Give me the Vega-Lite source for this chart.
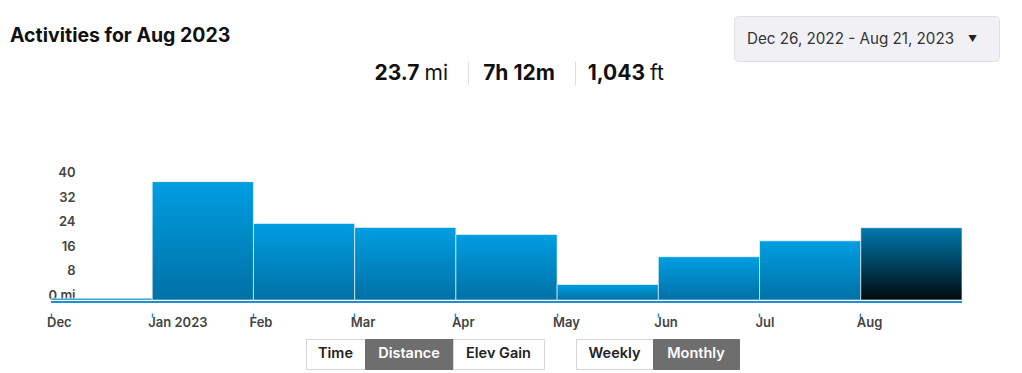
{
  "$schema": "https://vega.github.io/schema/vega-lite/v6.json",
  "padding": 0,
  "background": "white",
  "bounds": "full",
  "spacing": 0,
  "config": {
    "view": {"stroke": null},
    "font": "Inter",
    "concat": {"spacing": 0},
    "text": {"font": "Inter"}
  },
  "vconcat": [
    {"width": 10, "height": 15, "data": {"values": [{}]}, "mark": "text", "encoding": {"text": {"value": ""}}},
    {
      "hconcat": [
        {
          "width": 20, "height": 40,
          "data": {"values": [{"t": "Activities for Aug 2023"}]},
          "mark": {"type": "text", "align": "left", "baseline": "middle", "fontSize": 19.5, "fontWeight": "bold", "color": "#111111"},
          "encoding": {"text": {"field": "t"}}
        },
        {
          "width": 265, "height": 45,
          "view": {"fill": "#f0f0f5", "stroke": "#dfdfe6", "cornerRadius": 4},
          "data": {"values": [{"range": "Dec 26, 2022 - Aug 21, 2023"}]},
          "layer": [
            {"mark": {"type": "text", "align": "center", "baseline": "middle", "fontSize": 15.2, "color": "#333333", "dx": -16}, "encoding": {"text": {"field": "range"}}},
            {"mark": {"type": "text", "align": "center", "baseline": "middle", "fontSize": 9, "color": "#222222", "dx": 106}, "encoding": {"text": {"value": "▼"}}}
          ]
        }
      ],
      "spacing": 714,
      "bounds": "flush"
    },
    {
      "hconcat": [
        {"width": 357, "height": 23, "data": {"values": [{}]}, "mark": "text", "encoding": {"text": {"value": ""}}},
        {
          "width": 111, "height": 23,
          "data": {"values": [{"num": "23.7", "unit": "mi"}]},
          "layer": [
            {"mark": {"type": "text", "align": "right", "baseline": "middle", "fontSize": 21, "fontWeight": "bold", "color": "#111111", "dx": 7}, "encoding": {"text": {"field": "num"}}},
            {"mark": {"type": "text", "align": "left", "baseline": "middle", "fontSize": 21, "fontWeight": "normal", "color": "#111111", "dx": 12}, "encoding": {"text": {"field": "unit"}}}
          ]
        },
        {"width": 1, "height": 23, "view": {"fill": "#dddddd"}, "data": {"values": [{}]}, "mark": "text", "encoding": {"text": {"value": ""}}},
        {
          "width": 106, "height": 23,
          "data": {"values": [{"num": "7h 12m"}]},
          "mark": {"type": "text", "align": "center", "baseline": "middle", "fontSize": 21, "fontWeight": "bold", "color": "#111111", "dx": -3},
          "encoding": {"text": {"field": "num"}}
        },
        {"width": 1, "height": 23, "view": {"fill": "#dddddd"}, "data": {"values": [{}]}, "mark": "text", "encoding": {"text": {"value": ""}}},
        {
          "width": 104, "height": 23,
          "data": {"values": [{"num": "1,043", "unit": "ft"}]},
          "layer": [
            {"mark": {"type": "text", "align": "right", "baseline": "middle", "fontSize": 21, "fontWeight": "bold", "color": "#111111", "dx": 17}, "encoding": {"text": {"field": "num"}}},
            {"mark": {"type": "text", "align": "left", "baseline": "middle", "fontSize": 21, "fontWeight": "normal", "color": "#111111", "dx": 22}, "encoding": {"text": {"field": "unit"}}}
          ]
        }
      ],
      "spacing": 0,
      "bounds": "flush"
    },
    {
      "hconcat": [
        {"width": 51, "height": 10, "data": {"values": [{}]}, "mark": "text", "encoding": {"text": {"value": ""}}},
        {
          "width": 911, "height": 214,
          "data": {"values": [
            {"month": "Dec", "miles": 0.6},
            {"month": "Jan 2023", "miles": 38.8},
            {"month": "Feb", "miles": 25.1},
            {"month": "Mar", "miles": 23.8},
            {"month": "Apr", "miles": 21.5},
            {"month": "May", "miles": 5.1},
            {"month": "Jun", "miles": 14.2},
            {"month": "Jul", "miles": 19.4},
            {"month": "Aug", "miles": 23.7}
          ]},
          "layer": [
            {
              "mark": {"type": "bar", "stroke": "white", "strokeWidth": 1, "strokeOpacity": 0.6},
              "encoding": {
                "x": {
                  "field": "month", "type": "nominal", "sort": null,
                  "scale": {"paddingInner": 0, "paddingOuter": 0},
                  "axis": {
                    "title": null, "orient": "bottom", "offset": 13, "domain": false,
                    "ticks": true, "tickSize": 4, "tickWidth": 1.5, "tickColor": "#1b8fd2",
                    "bandPosition": 0, "labelAlign": "left", "labelBaseline": "top", "labelOffset": -54.6,
                    "labelPadding": -1, "labelAngle": 0, "labelFontSize": 13, "labelFontWeight": 600,
                    "labelColor": "#444444", "labelFont": "Inter"
                  }
                },
                "y": {
                  "field": "miles", "type": "quantitative",
                  "scale": {"domain": [0, 70.16], "nice": false},
                  "axis": {
                    "title": null, "orient": "left", "offset": -28, "domain": false, "ticks": false, "grid": false,
                    "values": [0, 8, 16, 24, 32, 40], "labelPadding": 4, "labelOffset": -5,
                    "labelFontSize": 13, "labelFontWeight": 600, "labelColor": "#444444", "labelFont": "Inter",
                    "labelExpr": "datum.value === 0 ? '0 mi' : datum.label"
                  }
                },
                "fill": {
                  "condition": {
                    "test": "datum.month === 'Aug'",
                    "value": {"gradient": "linear", "x1": 0, "y1": 0, "x2": 0, "y2": 1, "stops": [{"offset": 0, "color": "#0079ad"}, {"offset": 1, "color": "#010a10"}]}
                  },
                  "value": {"gradient": "linear", "x1": 0, "y1": 0, "x2": 0, "y2": 1, "stops": [{"offset": 0, "color": "#009ee2"}, {"offset": 1, "color": "#0071a5"}]}
                }
              }
            },
            {
              "mark": {"type": "rule", "stroke": "#1e90d0", "strokeWidth": 1.5, "yOffset": 2},
              "encoding": {"y": {"datum": 0}}
            }
          ]
        }
      ],
      "spacing": 0,
      "bounds": "flush"
    },
    {"width": 10, "height": 9, "data": {"values": [{}]}, "mark": {"type": "text", "fontSize": 1}, "encoding": {"text": {"value": ""}}},
    {
      "hconcat": [
        {"width": 306, "height": 30, "data": {"values": [{}]}, "mark": "text", "encoding": {"text": {"value": ""}}},
        {"width": 59, "height": 30, "view": {"fill": "#ffffff", "stroke": "#d4d4da"}, "data": {"values": [{"label": "Time"}]}, "mark": {"type": "text", "fontSize": 14.5, "fontWeight": 600, "color": "#222222", "baseline": "middle"}, "encoding": {"text": {"field": "label"}}},
        {"width": 88, "height": 30, "view": {"fill": "#6e6e6e", "stroke": "#6e6e6e"}, "data": {"values": [{"label": "Distance"}]}, "mark": {"type": "text", "fontSize": 14.5, "fontWeight": 600, "color": "#ffffff", "baseline": "middle"}, "encoding": {"text": {"field": "label"}}},
        {"width": 91, "height": 30, "view": {"fill": "#ffffff", "stroke": "#d4d4da"}, "data": {"values": [{"label": "Elev Gain"}]}, "mark": {"type": "text", "fontSize": 14.5, "fontWeight": 600, "color": "#222222", "baseline": "middle"}, "encoding": {"text": {"field": "label"}}},
        {"width": 32, "height": 30, "data": {"values": [{}]}, "mark": "text", "encoding": {"text": {"value": ""}}},
        {"width": 77, "height": 30, "view": {"fill": "#ffffff", "stroke": "#d4d4da"}, "data": {"values": [{"label": "Weekly"}]}, "mark": {"type": "text", "fontSize": 14.5, "fontWeight": 600, "color": "#222222", "baseline": "middle"}, "encoding": {"text": {"field": "label"}}},
        {"width": 86, "height": 30, "view": {"fill": "#6e6e6e", "stroke": "#6e6e6e"}, "data": {"values": [{"label": "Monthly"}]}, "mark": {"type": "text", "fontSize": 14.5, "fontWeight": 600, "color": "#ffffff", "baseline": "middle"}, "encoding": {"text": {"field": "label"}}}
      ],
      "spacing": 0,
      "bounds": "flush"
    }
  ]
}
